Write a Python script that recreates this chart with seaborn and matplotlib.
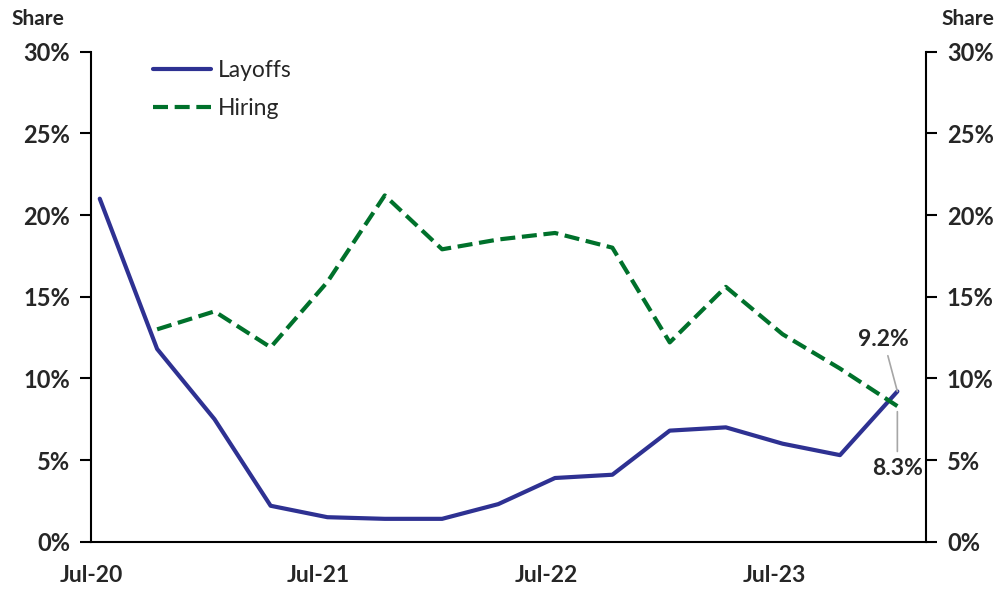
import matplotlib
matplotlib.use("Agg")
import matplotlib.pyplot as plt
import matplotlib.dates as mdates
import matplotlib.ticker as mticker
import pandas as pd
import seaborn as sns

quarters = pd.date_range("2020-07-01", periods=15, freq="3MS") + pd.Timedelta(days=14)
layoffs = [21.0, 11.8, 7.5, 2.2, 1.5, 1.4, 1.4, 2.3, 3.9, 4.1, 6.8, 7.0, 6.0, 5.3, 9.2]
hiring = [None, 13.0, 14.1, 11.9, 15.9, 21.2, 17.9, 18.5, 18.9, 18.0, 12.2, 15.6, 12.7, 10.6, 8.3]
y_ticks = [0, 5, 10, 15, 20, 25, 30]

df = pd.DataFrame({"date": quarters, "Layoffs": layoffs, "Hiring": hiring})

sns.set_style("white")
plt.rcParams["font.family"] = ["Lato", "DejaVu Sans"]

fig = plt.figure(figsize=(9.98, 5.89), dpi=100)
ax = fig.add_axes([0.0912, 0.0803, 0.8367, 0.832])

sns.lineplot(data=df, x="date", y="Layoffs", ax=ax, color="#2E3192", lw=3.0, label="Layoffs")
sns.lineplot(data=df, x="date", y="Hiring", ax=ax, color="#00712B", lw=3.0, label="Hiring")
ax.lines[1].set_dashes((3.6, 1.6))

ax.set_xlim(pd.Timestamp("2020-07-01"), pd.Timestamp("2024-03-01"))
ax.set_ylim(0, 30)
ax.set_xlabel("")
ax.set_ylabel("")

ax.xaxis.set_major_locator(mdates.MonthLocator(bymonth=7))
ax.xaxis.set_major_formatter(mdates.DateFormatter("%b-%y"))
ax.xaxis.set_minor_locator(mdates.MonthLocator())
ax.set_yticks(y_ticks)
ax.yaxis.set_major_formatter(mticker.FuncFormatter(lambda v, p: f"{v:.0f}%"))

for s in ["top", "right"]:
    ax.spines[s].set_visible(False)
for s in ["left", "bottom"]:
    ax.spines[s].set_color("black")
    ax.spines[s].set_linewidth(1.5)

ax.tick_params(axis="x", which="major", length=8, width=1.5, direction="out",
               color="black", labelsize=16.5, pad=9)
ax.tick_params(axis="x", which="minor", length=5, width=1.2, direction="out", color="black")
ax.tick_params(axis="y", length=8, width=1.5, direction="out", color="black",
               labelsize=17, pad=7, left=True)
for lab in ax.get_xticklabels() + ax.get_yticklabels():
    lab.set_fontweight("bold")

ax2 = ax.twinx()
ax2.set_ylim(0, 30)
ax2.set_yticks(y_ticks)
ax2.yaxis.set_major_formatter(mticker.FuncFormatter(lambda v, p: f"{v:.0f}%"))
for s in ["top", "left", "bottom"]:
    ax2.spines[s].set_visible(False)
ax2.spines["right"].set_color("black")
ax2.spines["right"].set_linewidth(1.5)
ax2.tick_params(axis="y", length=8, width=1.5, direction="out", color="black",
                labelsize=17, pad=7, right=True)
for lab in ax2.get_yticklabels():
    lab.set_fontweight("bold")

fig.text(0.038, 0.968, "Share", ha="center", va="center", fontsize=15, fontweight="bold")
fig.text(0.970, 0.968, "Share", ha="center", va="center", fontsize=15, fontweight="bold")

leg = ax.legend(loc="upper left", bbox_to_anchor=(0.05, 1.025), frameon=False,
                fontsize=16.5, handlelength=2.5, handletextpad=0.3, labelspacing=0.75)

# end-point labels
last = quarters[-1]
ax.annotate("9.2%", xy=(last, layoffs[-1]), xytext=(-10, 30), textcoords="offset points",
            ha="center", va="bottom", fontsize=16.5, fontweight="bold",
            arrowprops=dict(arrowstyle="-", color="#A6A6A6", lw=1.2, shrinkA=2, shrinkB=0))
ax.annotate("8.3%", xy=(last, hiring[-1]), xytext=(0, -37), textcoords="offset points",
            ha="center", va="top", fontsize=16.5, fontweight="bold",
            arrowprops=dict(arrowstyle="-", color="#A6A6A6", lw=1.2, shrinkA=2, shrinkB=4))

fig.savefig("out.png", dpi=100, facecolor="white")
